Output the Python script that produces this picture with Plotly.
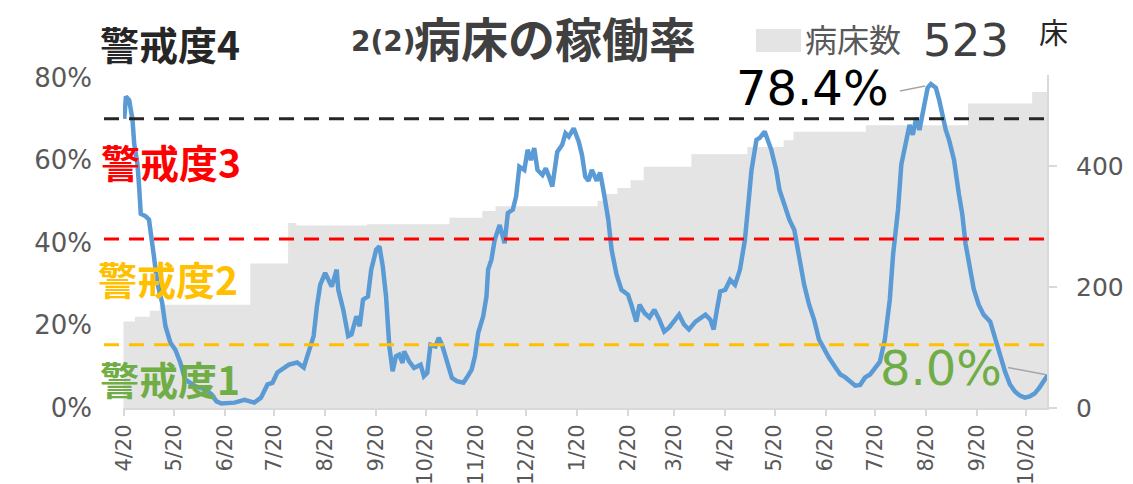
import plotly.graph_objects as go
import pandas as pd

# ---------------- data ----------------
start_date = "2020-04-20"

# occupancy rate (%), read at day offsets from 2020-04-20
rate_days = [0, 1, 3, 5, 6, 8, 9, 10, 13, 15, 18, 20, 23, 25, 28, 31, 34, 37, 43, 49, 53, 56, 59, 67,
             73, 79, 83, 87, 90, 93, 100, 105, 109, 112, 115, 117, 119, 122, 126, 129, 130, 133, 136,
             138, 141, 143, 145, 148, 150, 153, 155, 157, 159, 161, 163, 165, 167, 169, 170, 173, 176,
             180, 182, 184, 186, 189, 191, 193, 196, 199, 202, 206, 208, 211, 213, 215, 218, 220, 221,
             223, 225, 228, 231, 233, 236, 238, 240, 243, 245, 247, 249, 251, 254, 256, 258, 260, 263,
             266, 268, 270, 273, 276, 278, 280, 282, 284, 287, 289, 291, 294, 296, 299, 302, 306, 308,
             311, 313, 316, 319, 322, 325, 328, 331, 334, 337, 340, 343, 347, 350, 353, 356, 358, 360,
             362, 365, 368, 371, 374, 377, 379, 381, 384, 386, 389, 391, 393, 396, 398, 401, 404, 407,
             410, 413, 416, 419, 422, 425, 428, 432, 435, 438, 441, 444, 447, 450, 453, 456, 459, 462,
             465, 467, 470, 472, 475, 477, 479, 481, 483, 486, 488, 490, 493, 495, 497, 499, 501, 504,
             507, 509, 511, 513, 516, 519, 522, 526, 529, 532, 535, 538, 541, 544, 547, 550, 553, 556,
             559, 561]
rate_pct = [70.0, 75.4, 74.5, 69.7, 64.0, 59.0, 53.6, 47.0, 46.4, 45.6, 36.7, 30.3, 25.5, 19.8, 15.8,
            14.1, 11.0, 6.9, 5.3, 4.5, 3.3, 1.6, 1.1, 1.3, 2.0, 1.3, 2.5, 5.7, 6.1, 8.6, 10.5, 11.0,
            9.8, 14.1, 17.4, 24.6, 29.8, 32.7, 29.4, 33.5, 28.6, 23.8, 17.4, 17.8, 22.2, 19.8, 26.2,
            27.0, 33.5, 38.3, 39.1, 34.3, 27.0, 14.9, 8.9, 12.5, 12.9, 10.9, 13.7, 11.3, 9.7, 10.5,
            7.7, 8.5, 15.3, 14.9, 17.0, 15.3, 11.7, 7.3, 6.5, 6.1, 7.3, 9.3, 12.5, 18.2, 22.2, 27.0,
            33.5, 35.9, 40.7, 44.3, 39.9, 47.2, 48.0, 51.2, 58.4, 57.6, 62.5, 60.0, 62.9, 57.6, 56.4,
            58.0, 56.0, 53.6, 62.0, 63.7, 66.5, 65.7, 67.7, 64.5, 61.3, 56.0, 55.0, 57.6, 55.0, 57.0,
            52.8, 45.6, 38.3, 32.3, 28.6, 27.4, 25.0, 20.9, 25.0, 23.0, 21.9, 23.8, 21.4, 18.5, 19.5,
            20.9, 22.6, 20.2, 19.0, 20.9, 21.9, 22.6, 21.4, 19.0, 23.8, 28.2, 28.6, 31.0, 29.8, 33.5,
            40.7, 48.0, 57.6, 64.9, 65.4, 66.9, 64.9, 62.5, 57.6, 52.8, 49.2, 45.6, 43.1, 35.9, 29.8,
            25.0, 21.4, 16.6, 14.1, 12.2, 9.8, 8.1, 7.4, 6.4, 5.4, 5.6, 7.4, 8.1, 9.8, 11.2, 16.6,
            26.2, 37.1, 48.0, 58.9, 64.9, 68.5, 66.1, 70.2, 67.3, 73.4, 77.5, 78.4, 77.5, 74.6, 70.9,
            67.3, 64.9, 60.1, 51.7, 47.0, 39.8, 34.9, 28.8, 25.0, 22.6, 20.9, 16.6, 12.2, 8.8, 5.7,
            4.0, 3.0, 2.5, 2.8, 3.5, 5.0, 7.0, 8.0]

# number of beds (step changes), day offsets from 2020-04-20
bed_days = [0, 7, 16, 22, 77, 100, 105, 148, 198, 218, 226, 288, 293, 300, 308, 316, 345, 379, 401,
            407, 451, 513, 552, 561]
bed_count = [143, 151, 161, 171, 239, 306, 302, 304, 315, 326, 334, 343, 354, 364, 377, 399, 420,
             432, 443, 457, 468, 504, 523, 523]

tick_dates = pd.date_range("2020-04-01", "2021-10-20", freq="MS") + pd.Timedelta(days=19)
tick_labels = [f"{d.month}/20" for d in tick_dates]

threshold_pct = [70.0, 40.9, 15.3]
threshold_colors = ["#262626", "#FF0000", "#FFC000"]

peak_label = "78.4%"
last_label = "8.0%"
beds_total = "523"

# ---------------- figure ----------------
t0 = pd.Timestamp(start_date)
rate_x = [t0 + pd.Timedelta(days=d) for d in rate_days]
rate_y = [v / 100 for v in rate_pct]
bed_x = [t0 + pd.Timedelta(days=d) - pd.Timedelta(hours=12) for d in bed_days]

W, H = 1133, 484
L, R, T, B = 123, 1047, 75, 408.5   # plot area in page pixels


def px(x):
    return (x - L) / (R - L)


def py(y):
    return (B - y) / (B - T)


fig = go.Figure()
# beds on primary axis (right side) so the rate line (overlaying axis) is drawn on top
fig.add_trace(go.Scatter(x=bed_x, y=bed_count, mode="lines", line=dict(width=0, shape="hv"),
                         fill="tozeroy", fillcolor="#e4e4e4", yaxis="y", hoverinfo="skip",
                         showlegend=False))
fig.add_trace(go.Scatter(x=rate_x, y=rate_y, mode="lines", yaxis="y2",
                         line=dict(color="#5B9BD5", width=4.5),
                         showlegend=False))

CJK = "Noto Sans CJK JP"
NUM = "DejaVu Sans"

shapes = []
for v, c in zip(threshold_pct, threshold_colors):
    shapes.append(dict(type="line", xref="paper", yref="y2", x0=px(104), x1=px(1049),
                       y0=v / 100, y1=v / 100, line=dict(color=c, width=3, dash="15px,10px"),
                       layer="above"))
# leader lines
shapes.append(dict(type="line", xref="paper", yref="paper", x0=px(900), y0=py(91), x1=px(925),
                   y1=py(86), line=dict(color="#A6A6A6", width=1.5)))
shapes.append(dict(type="line", xref="paper", yref="paper", x0=px(1008), y0=py(368), x1=px(1045),
                   y1=py(375), line=dict(color="#A6A6A6", width=1.5)))
# legend swatch
shapes.append(dict(type="rect", xref="paper", yref="paper", x0=px(756), x1=px(801), y0=py(52),
                   y1=py(29), fillcolor="#e4e4e4", line=dict(width=0)))

ann = []


def add_text(text, x, y, size, color, font=CJK, anchor="left"):
    ann.append(dict(text=text, x=px(x), y=py(y), xref="paper", yref="paper", showarrow=False,
                    xanchor=anchor, yanchor="middle", borderpad=0,
                    font=dict(family=font, size=size, color=color)))


add_text("<b>2(2)</b>", 350, 41, 28, "#404040", font=NUM)
add_text("<b>病床の稼働率</b>", 413, 36, 47, "#404040")
add_text("<b>警戒度4</b>", 99, 43, 39, "#262626")
add_text("<b>警戒度3</b>", 100, 161, 39, "#FF0000")
add_text("<b>警戒度2</b>", 97, 278, 39, "#FFC000")
add_text("<b>警戒度1</b>", 99, 378, 39, "#70AD47")
add_text(peak_label, 889, 88, 48, "#000000", font=NUM, anchor="right")
add_text(last_label, 879, 368, 48, "#70AD47", font=NUM)
add_text("病床数", 804, 38, 32, "#595959")
add_text(beds_total, 922, 40, 45, "#404040", font=NUM)
add_text("床", 1038, 31, 29, "#262626")

fig.update_layout(
    width=W, height=H,
    margin=dict(l=L, r=W - R, t=T, b=H - B, autoexpand=False),
    paper_bgcolor="white", plot_bgcolor="white",
    xaxis=dict(type="date", range=[t0 - pd.Timedelta(hours=19), t0 + pd.Timedelta(days=560.5)],
               tickvals=list(tick_dates), ticktext=tick_labels, tickangle=-90,
               tickfont=dict(family=NUM, size=21, color="#595959"),
               ticks="outside", ticklen=6, tickcolor="#d9d9d9", tickwidth=1.5, automargin=False,
               showline=True, linecolor="#d9d9d9", linewidth=2, showgrid=False, zeroline=False),
    yaxis=dict(range=[0, 551], side="right", tickvals=[0, 200, 400],
               tickfont=dict(family=NUM, size=25, color="#595959"),
               showgrid=False, zeroline=False, showline=True, linecolor="#d9d9d9", linewidth=2,
               ticks="outside", ticklen=8, tickcolor="#d9d9d9", tickwidth=1.5,
               ticklabelstandoff=14, automargin=False),
    yaxis2=dict(range=[0, 0.806], overlaying="y", side="left",
                tickvals=[0, 0.2, 0.4, 0.6, 0.8],
                ticktext=["0%", "20%", "40%", "60%", "80%"],
                tickfont=dict(family=NUM, size=26, color="#595959"),
                showgrid=False, zeroline=False, showline=False, ticks="",
                ticklabelstandoff=30, automargin=False),
    shapes=shapes, annotations=ann, showlegend=False,
)

# remove the default 8px page margin so the figure fills the window exactly
fig.write_html("out.html", config={"displayModeBar": False},
               post_script="document.body.style.margin='0px';")
